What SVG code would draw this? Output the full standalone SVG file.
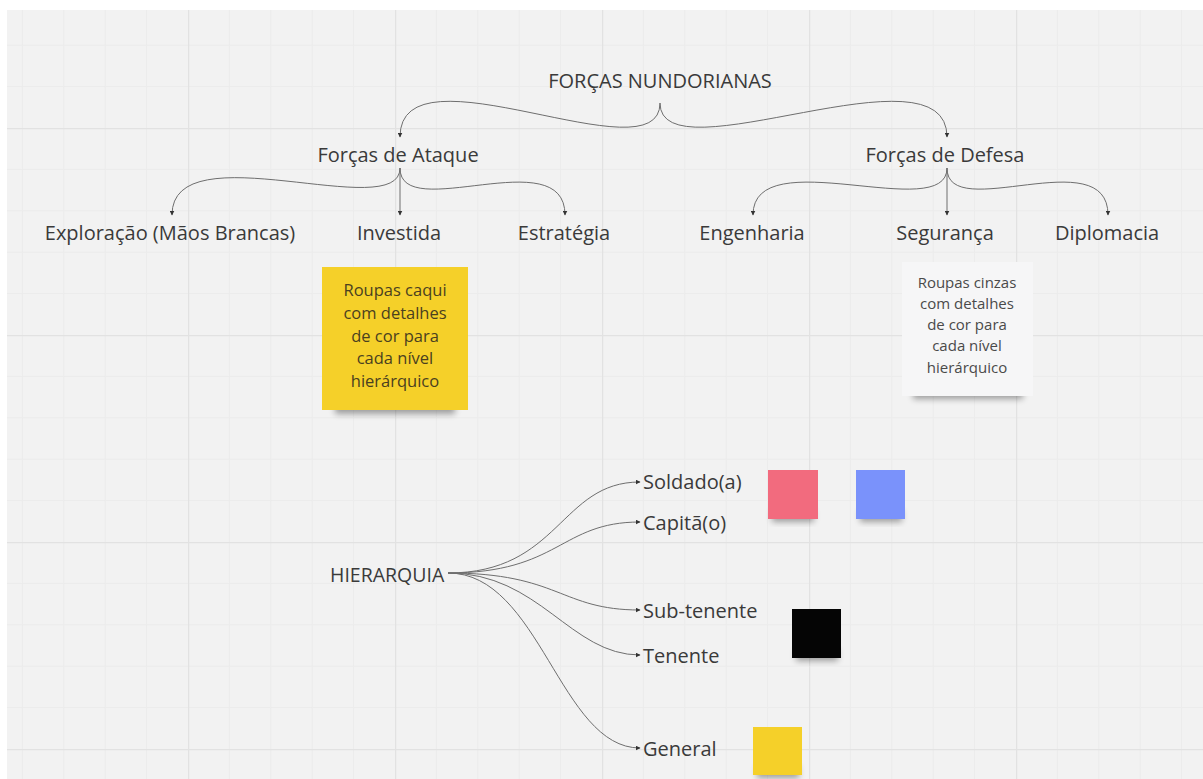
<svg xmlns="http://www.w3.org/2000/svg" width="1203" height="779" viewBox="0 0 1203 779">
  <defs>
    <pattern id="grid" patternUnits="userSpaceOnUse" x="-19" y="-79" width="207" height="207">
      <g stroke="#ebebeb" stroke-width="1">
        <path d="M41.4 0V207M82.8 0V207M124.2 0V207M165.6 0V207M0 41.4H207M0 82.8H207M0 124.2H207M0 165.6H207"/>
      </g>
      <path d="M0.5 0V207M0 0.5H207" stroke="#e2e2e2" stroke-width="1.5"/>
    </pattern>
    <marker id="arr" viewBox="0 0 10 10" refX="9" refY="5" markerWidth="5" markerHeight="5" orient="auto">
      <path d="M0 0L10 5L0 10z" fill="#333"/>
    </marker>
    <filter id="shadow" x="-20%" y="-20%" width="140%" height="160%">
      <feGaussianBlur stdDeviation="3"/>
    </filter>
    <style>
      .t{font-family:"Open Sans","Noto Sans","Liberation Sans",sans-serif;fill:#3a3a3a;}
      .l1{font-size:20px;text-anchor:middle;}
      .l2{font-size:20px;}
      .c{fill:none;stroke:#6e6e6e;stroke-width:1;marker-end:url(#arr);}
      .sh{fill:#000;opacity:0.35;filter:url(#shadow);}
    </style>
  </defs>
  <rect width="1203" height="779" fill="#ffffff"/>
  <rect x="7" y="10" width="1196" height="769" fill="#f2f2f2"/>
  <rect x="7" y="10" width="1196" height="769" fill="url(#grid)"/>

  <g id="connectors">
    <path class="c" d="M660 103C660 180 400 40 400 137"/>
    <path class="c" d="M660 103C660 180 947 40 947 137"/>
    <path class="c" d="M400 168C400 225 172 130 172 215"/>
    <path class="c" d="M400 168L400 215"/>
    <path class="c" d="M400 168C400 225 565 140 565 215"/>
    <path class="c" d="M947 168C947 225 753 140 753 215"/>
    <path class="c" d="M947 168L947 215"/>
    <path class="c" d="M947 168C947 225 1108 140 1108 215"/>
    <path class="c" d="M448 573C560 573 560 482 640 482"/>
    <path class="c" d="M448 573C560 573 560 522 640 522"/>
    <path class="c" d="M448 573C560 573 560 610 640 610"/>
    <path class="c" d="M448 573C540 573 570 655 640 655"/>
    <path class="c" d="M448 573C540 573 560 748 640 748"/>
  </g>

  <g id="n-root"><text class="t l1" x="660" y="88">FORÇAS NUNDORIANAS</text></g>
  <g id="n-ataque"><text class="t l1" x="398" y="162">Forças de Ataque</text></g>
  <g id="n-defesa"><text class="t l1" x="945" y="162">Forças de Defesa</text></g>
  <g id="n-exploracao"><text class="t l1" x="170" y="240">Exploração (Mãos Brancas)</text></g>
  <g id="n-investida"><text class="t l1" x="399" y="240">Investida</text></g>
  <g id="n-estrategia"><text class="t l1" x="564" y="240">Estratégia</text></g>
  <g id="n-engenharia"><text class="t l1" x="752" y="240">Engenharia</text></g>
  <g id="n-seguranca"><text class="t l1" x="945" y="240">Segurança</text></g>
  <g id="n-diplomacia"><text class="t l1" x="1107" y="240">Diplomacia</text></g>

  <g id="note-caqui">
    <rect class="sh" x="335" y="396" width="120" height="18"/>
    <rect x="322" y="267" width="146" height="143" fill="#f5d029"/>
    <g class="t" style="font-size:16.5px;text-anchor:middle;fill:#4a4020">
      <text x="395" y="296">Roupas caqui</text>
      <text x="395" y="319">com detalhes</text>
      <text x="395" y="342">de cor para</text>
      <text x="395" y="364">cada nível</text>
      <text x="395" y="387">hierárquico</text>
    </g>
  </g>

  <g id="note-cinza">
    <rect class="sh" x="913" y="383" width="110" height="16"/>
    <rect x="902" y="262" width="131" height="134" fill="#f6f6f7"/>
    <g class="t" style="font-size:15px;text-anchor:middle;fill:#4a4a4a">
      <text x="967" y="288">Roupas cinzas</text>
      <text x="967" y="309">com detalhes</text>
      <text x="967" y="330">de cor para</text>
      <text x="967" y="351">cada nível</text>
      <text x="967" y="373">hierárquico</text>
    </g>
  </g>

  <g id="n-hierarquia"><text class="t l2" x="330" y="582" style="font-size:19.5px">HIERARQUIA</text></g>
  <g id="n-soldado"><text class="t l2" x="643" y="489">Soldado(a)</text></g>
  <g id="n-capita"><text class="t l2" x="643" y="530">Capitã(o)</text></g>
  <g id="n-subtenente"><text class="t l2" x="643" y="618">Sub-tenente</text></g>
  <g id="n-tenente"><text class="t l2" x="643" y="663">Tenente</text></g>
  <g id="n-general"><text class="t l2" x="643" y="756">General</text></g>

  <g id="sq-pink">
    <rect class="sh" x="772" y="510" width="42" height="12"/>
    <rect x="768" y="470" width="50" height="49" fill="#f26b7e"/>
  </g>
  <g id="sq-blue">
    <rect class="sh" x="860" y="510" width="42" height="12"/>
    <rect x="856" y="470" width="49" height="49" fill="#7a92fb"/>
  </g>
  <g id="sq-black">
    <rect class="sh" x="796" y="649" width="42" height="12"/>
    <rect x="792" y="609" width="49" height="49" fill="#050505"/>
  </g>
  <g id="sq-yellow">
    <rect class="sh" x="757" y="766" width="42" height="12"/>
    <rect x="753" y="727" width="49" height="48" fill="#f5d029"/>
  </g>
</svg>
